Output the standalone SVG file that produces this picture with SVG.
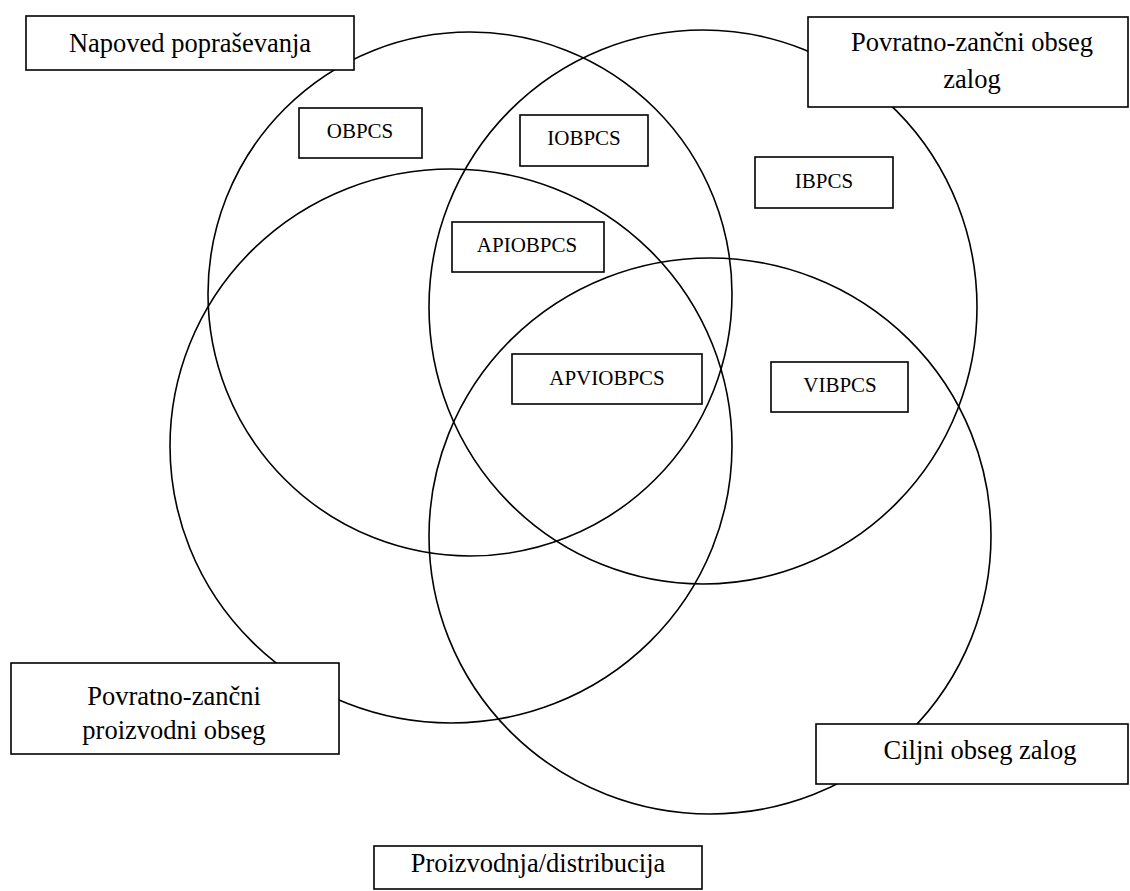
<svg xmlns="http://www.w3.org/2000/svg" width="1130" height="891" viewBox="0 0 1130 891">
<style>
.set{fill:none;stroke:#000;stroke-width:1.6}
.box{fill:#fff;stroke:#000;stroke-width:1.6}
.big{font-family:"Liberation Serif","Times New Roman",serif;font-size:26.5px;fill:#000;text-anchor:middle}
.small{font-family:"Liberation Serif","Times New Roman",serif;font-size:21px;fill:#000;text-anchor:middle}
</style>
<rect width="1130" height="891" fill="#fff"/>
<g id="sets">
<ellipse class="set" cx="470" cy="294" rx="262" ry="262"/>
<ellipse class="set" cx="703" cy="307" rx="274" ry="277"/>
<ellipse class="set" cx="451" cy="446" rx="281" ry="277"/>
<ellipse class="set" cx="710" cy="536" rx="281" ry="278"/>
</g>
<g id="napoved">
<rect class="box" x="26" y="16" width="328" height="54"/>
<text class="big" x="190" y="52">Napoved popraševanja</text>
</g>
<g id="obseg-zalog">
<rect class="box" x="808" y="17" width="320" height="90"/>
<text class="big" x="972" y="51">Povratno-zančni obseg</text>
<text class="big" x="972" y="88">zalog</text>
</g>
<g id="proizvodni-obseg">
<rect class="box" x="11" y="663" width="328" height="91"/>
<text class="big" x="174" y="705">Povratno-zančni</text>
<text class="big" x="174" y="739">proizvodni obseg</text>
</g>
<g id="ciljni">
<rect class="box" x="816" y="724" width="312" height="60"/>
<text class="big" x="980" y="759">Ciljni obseg zalog</text>
</g>
<g id="proizvodnja">
<rect class="box" x="374" y="846" width="328" height="43"/>
<text class="big" x="538" y="872">Proizvodnja/distribucija</text>
</g>
<g id="obpcs">
<rect class="box" x="299" y="108" width="123" height="50"/>
<text class="small" x="360" y="138">OBPCS</text>
</g>
<g id="iobpcs">
<rect class="box" x="520" y="115" width="128" height="51"/>
<text class="small" x="584" y="145">IOBPCS</text>
</g>
<g id="apiobpcs">
<rect class="box" x="452" y="222" width="152" height="50"/>
<text class="small" x="527" y="252">APIOBPCS</text>
</g>
<g id="apviobpcs">
<rect class="box" x="512" y="354" width="190" height="50"/>
<text class="small" x="607" y="385">APVIOBPCS</text>
</g>
<g id="ibpcs">
<rect class="box" x="755" y="157" width="138" height="51"/>
<text class="small" x="824" y="188">IBPCS</text>
</g>
<g id="vibpcs">
<rect class="box" x="771" y="362" width="137" height="50"/>
<text class="small" x="840" y="392">VIBPCS</text>
</g>
</svg>
